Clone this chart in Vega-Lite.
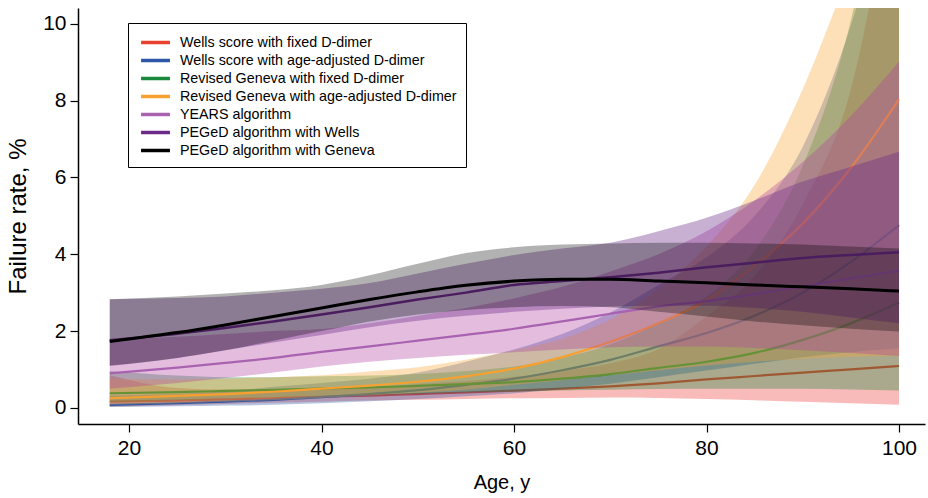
{
  "$schema": "https://vega.github.io/schema/vega-lite/v6.json",
  "width": 847,
  "height": 416,
  "autosize": "none",
  "padding": {"left": 78, "top": 8, "right": 3, "bottom": 74},
  "background": "white",
  "config": {"view": {"stroke": null}, "font": "Liberation Sans"},
  "datasets": {
    "red": [
      {"m":"Wells score with fixed D-dimer","a":18,"e":0.16,"lo":0.03,"hi":0.85},{"m":"Wells score with fixed D-dimer","a":25,"e":0.19,"lo":0.07,"hi":0.52},{"m":"Wells score with fixed D-dimer","a":30,"e":0.22,"lo":0.1,"hi":0.48},{"m":"Wells score with fixed D-dimer","a":35,"e":0.25,"lo":0.13,"hi":0.48},{"m":"Wells score with fixed D-dimer","a":40,"e":0.29,"lo":0.16,"hi":0.53},{"m":"Wells score with fixed D-dimer","a":45,"e":0.32,"lo":0.19,"hi":0.54},{"m":"Wells score with fixed D-dimer","a":50,"e":0.36,"lo":0.21,"hi":0.62},{"m":"Wells score with fixed D-dimer","a":55,"e":0.4,"lo":0.23,"hi":0.7},{"m":"Wells score with fixed D-dimer","a":60,"e":0.45,"lo":0.25,"hi":0.81},{"m":"Wells score with fixed D-dimer","a":65,"e":0.5,"lo":0.26,"hi":0.96},{"m":"Wells score with fixed D-dimer","a":70,"e":0.56,"lo":0.27,"hi":1.16},{"m":"Wells score with fixed D-dimer","a":75,"e":0.64,"lo":0.26,"hi":1.53},{"m":"Wells score with fixed D-dimer","a":80,"e":0.74,"lo":0.23,"hi":2.38},{"m":"Wells score with fixed D-dimer","a":85,"e":0.83,"lo":0.2,"hi":3.44},{"m":"Wells score with fixed D-dimer","a":90,"e":0.92,"lo":0.16,"hi":5.3},{"m":"Wells score with fixed D-dimer","a":95,"e":1.0,"lo":0.12,"hi":8.3},{"m":"Wells score with fixed D-dimer","a":100,"e":1.09,"lo":0.08,"hi":14.8}
    ],
    "blue": [
      {"m":"Wells score with age-adjusted D-dimer","a":18,"e":0.08,"lo":0.02,"hi":0.32},{"m":"Wells score with age-adjusted D-dimer","a":25,"e":0.12,"lo":0.04,"hi":0.36},{"m":"Wells score with age-adjusted D-dimer","a":30,"e":0.16,"lo":0.06,"hi":0.43},{"m":"Wells score with age-adjusted D-dimer","a":35,"e":0.21,"lo":0.08,"hi":0.55},{"m":"Wells score with age-adjusted D-dimer","a":40,"e":0.28,"lo":0.12,"hi":0.65},{"m":"Wells score with age-adjusted D-dimer","a":45,"e":0.36,"lo":0.17,"hi":0.76},{"m":"Wells score with age-adjusted D-dimer","a":50,"e":0.46,"lo":0.23,"hi":0.92},{"m":"Wells score with age-adjusted D-dimer","a":55,"e":0.6,"lo":0.3,"hi":1.2},{"m":"Wells score with age-adjusted D-dimer","a":60,"e":0.76,"lo":0.38,"hi":1.52},{"m":"Wells score with age-adjusted D-dimer","a":65,"e":0.98,"lo":0.5,"hi":1.92},{"m":"Wells score with age-adjusted D-dimer","a":70,"e":1.25,"lo":0.63,"hi":2.48},{"m":"Wells score with age-adjusted D-dimer","a":75,"e":1.6,"lo":0.8,"hi":3.2},{"m":"Wells score with age-adjusted D-dimer","a":80,"e":1.95,"lo":0.97,"hi":3.92},{"m":"Wells score with age-adjusted D-dimer","a":85,"e":2.4,"lo":1.15,"hi":5.0},{"m":"Wells score with age-adjusted D-dimer","a":90,"e":3.0,"lo":1.32,"hi":6.8},{"m":"Wells score with age-adjusted D-dimer","a":95,"e":3.8,"lo":1.45,"hi":9.96},{"m":"Wells score with age-adjusted D-dimer","a":100,"e":4.76,"lo":1.55,"hi":14.6}
    ],
    "green": [
      {"m":"Revised Geneva with fixed D-dimer","a":18,"e":0.38,"lo":0.15,"hi":0.96},{"m":"Revised Geneva with fixed D-dimer","a":25,"e":0.41,"lo":0.2,"hi":0.84},{"m":"Revised Geneva with fixed D-dimer","a":30,"e":0.44,"lo":0.24,"hi":0.8},{"m":"Revised Geneva with fixed D-dimer","a":35,"e":0.47,"lo":0.27,"hi":0.8},{"m":"Revised Geneva with fixed D-dimer","a":40,"e":0.5,"lo":0.3,"hi":0.82},{"m":"Revised Geneva with fixed D-dimer","a":45,"e":0.53,"lo":0.34,"hi":0.84},{"m":"Revised Geneva with fixed D-dimer","a":50,"e":0.57,"lo":0.37,"hi":0.88},{"m":"Revised Geneva with fixed D-dimer","a":55,"e":0.62,"lo":0.4,"hi":0.96},{"m":"Revised Geneva with fixed D-dimer","a":60,"e":0.67,"lo":0.42,"hi":1.08},{"m":"Revised Geneva with fixed D-dimer","a":65,"e":0.76,"lo":0.45,"hi":1.3},{"m":"Revised Geneva with fixed D-dimer","a":70,"e":0.88,"lo":0.47,"hi":1.65},{"m":"Revised Geneva with fixed D-dimer","a":75,"e":1.04,"lo":0.49,"hi":2.2},{"m":"Revised Geneva with fixed D-dimer","a":80,"e":1.2,"lo":0.5,"hi":2.9},{"m":"Revised Geneva with fixed D-dimer","a":85,"e":1.43,"lo":0.5,"hi":4.1},{"m":"Revised Geneva with fixed D-dimer","a":90,"e":1.77,"lo":0.5,"hi":6.3},{"m":"Revised Geneva with fixed D-dimer","a":95,"e":2.2,"lo":0.48,"hi":10.1},{"m":"Revised Geneva with fixed D-dimer","a":100,"e":2.74,"lo":0.45,"hi":16.7}
    ],
    "orange": [
      {"m":"Revised Geneva with age-adjusted D-dimer","a":18,"e":0.25,"lo":0.08,"hi":0.75},{"m":"Revised Geneva with age-adjusted D-dimer","a":25,"e":0.31,"lo":0.12,"hi":0.74},{"m":"Revised Geneva with age-adjusted D-dimer","a":30,"e":0.36,"lo":0.16,"hi":0.76},{"m":"Revised Geneva with age-adjusted D-dimer","a":35,"e":0.42,"lo":0.2,"hi":0.8},{"m":"Revised Geneva with age-adjusted D-dimer","a":40,"e":0.5,"lo":0.26,"hi":0.85},{"m":"Revised Geneva with age-adjusted D-dimer","a":45,"e":0.58,"lo":0.32,"hi":0.95},{"m":"Revised Geneva with age-adjusted D-dimer","a":50,"e":0.68,"lo":0.4,"hi":1.06},{"m":"Revised Geneva with age-adjusted D-dimer","a":55,"e":0.82,"lo":0.48,"hi":1.25},{"m":"Revised Geneva with age-adjusted D-dimer","a":60,"e":1.02,"lo":0.6,"hi":1.5},{"m":"Revised Geneva with age-adjusted D-dimer","a":65,"e":1.32,"lo":0.72,"hi":1.8},{"m":"Revised Geneva with age-adjusted D-dimer","a":70,"e":1.72,"lo":0.85,"hi":2.3},{"m":"Revised Geneva with age-adjusted D-dimer","a":75,"e":2.2,"lo":0.98,"hi":3.1},{"m":"Revised Geneva with age-adjusted D-dimer","a":80,"e":2.8,"lo":1.1,"hi":4.2},{"m":"Revised Geneva with age-adjusted D-dimer","a":85,"e":3.7,"lo":1.2,"hi":5.8},{"m":"Revised Geneva with age-adjusted D-dimer","a":90,"e":4.8,"lo":1.28,"hi":8.3},{"m":"Revised Geneva with age-adjusted D-dimer","a":95,"e":6.25,"lo":1.33,"hi":11.5},{"m":"Revised Geneva with age-adjusted D-dimer","a":100,"e":8.03,"lo":1.35,"hi":15}
    ],
    "years": [
      {"m":"YEARS algorithm","a":18,"e":0.9,"lo":0.5,"hi":1.78},{"m":"YEARS algorithm","a":25,"e":1.05,"lo":0.65,"hi":1.85},{"m":"YEARS algorithm","a":30,"e":1.17,"lo":0.78,"hi":1.92},{"m":"YEARS algorithm","a":35,"e":1.3,"lo":0.92,"hi":2.0},{"m":"YEARS algorithm","a":40,"e":1.46,"lo":1.08,"hi":2.05},{"m":"YEARS algorithm","a":45,"e":1.6,"lo":1.2,"hi":2.2},{"m":"YEARS algorithm","a":50,"e":1.75,"lo":1.3,"hi":2.4},{"m":"YEARS algorithm","a":55,"e":1.9,"lo":1.38,"hi":2.6},{"m":"YEARS algorithm","a":60,"e":2.06,"lo":1.45,"hi":2.85},{"m":"YEARS algorithm","a":65,"e":2.25,"lo":1.52,"hi":3.15},{"m":"YEARS algorithm","a":70,"e":2.45,"lo":1.58,"hi":3.55},{"m":"YEARS algorithm","a":75,"e":2.64,"lo":1.6,"hi":4.0},{"m":"YEARS algorithm","a":80,"e":2.78,"lo":1.6,"hi":4.6},{"m":"YEARS algorithm","a":85,"e":2.96,"lo":1.56,"hi":5.4},{"m":"YEARS algorithm","a":90,"e":3.16,"lo":1.5,"hi":6.4},{"m":"YEARS algorithm","a":95,"e":3.37,"lo":1.43,"hi":7.6},{"m":"YEARS algorithm","a":100,"e":3.57,"lo":1.35,"hi":9.01}
    ],
    "pw": [
      {"m":"PEGeD algorithm with Wells","a":18,"e":1.76,"lo":1.09,"hi":2.83},{"m":"PEGeD algorithm with Wells","a":25,"e":1.93,"lo":1.3,"hi":2.86},{"m":"PEGeD algorithm with Wells","a":30,"e":2.08,"lo":1.5,"hi":2.9},{"m":"PEGeD algorithm with Wells","a":35,"e":2.25,"lo":1.7,"hi":3.0},{"m":"PEGeD algorithm with Wells","a":40,"e":2.43,"lo":1.9,"hi":3.1},{"m":"PEGeD algorithm with Wells","a":45,"e":2.62,"lo":2.1,"hi":3.25},{"m":"PEGeD algorithm with Wells","a":50,"e":2.82,"lo":2.27,"hi":3.5},{"m":"PEGeD algorithm with Wells","a":55,"e":3.0,"lo":2.4,"hi":3.75},{"m":"PEGeD algorithm with Wells","a":60,"e":3.2,"lo":2.5,"hi":3.98},{"m":"PEGeD algorithm with Wells","a":65,"e":3.3,"lo":2.58,"hi":4.15},{"m":"PEGeD algorithm with Wells","a":70,"e":3.4,"lo":2.64,"hi":4.3},{"m":"PEGeD algorithm with Wells","a":75,"e":3.52,"lo":2.66,"hi":4.6},{"m":"PEGeD algorithm with Wells","a":80,"e":3.66,"lo":2.66,"hi":4.95},{"m":"PEGeD algorithm with Wells","a":85,"e":3.78,"lo":2.6,"hi":5.4},{"m":"PEGeD algorithm with Wells","a":90,"e":3.9,"lo":2.5,"hi":5.89},{"m":"PEGeD algorithm with Wells","a":95,"e":3.98,"lo":2.35,"hi":6.28},{"m":"PEGeD algorithm with Wells","a":100,"e":4.05,"lo":2.2,"hi":6.67}
    ],
    "pg": [
      {"m":"PEGeD algorithm with Geneva","a":18,"e":1.73,"lo":1.1,"hi":2.83},{"m":"PEGeD algorithm with Geneva","a":25,"e":1.96,"lo":1.3,"hi":2.9},{"m":"PEGeD algorithm with Geneva","a":30,"e":2.16,"lo":1.5,"hi":2.98},{"m":"PEGeD algorithm with Geneva","a":35,"e":2.38,"lo":1.75,"hi":3.06},{"m":"PEGeD algorithm with Geneva","a":40,"e":2.6,"lo":2.0,"hi":3.2},{"m":"PEGeD algorithm with Geneva","a":45,"e":2.82,"lo":2.25,"hi":3.45},{"m":"PEGeD algorithm with Geneva","a":50,"e":3.02,"lo":2.43,"hi":3.75},{"m":"PEGeD algorithm with Geneva","a":55,"e":3.19,"lo":2.55,"hi":4.03},{"m":"PEGeD algorithm with Geneva","a":60,"e":3.3,"lo":2.62,"hi":4.18},{"m":"PEGeD algorithm with Geneva","a":65,"e":3.35,"lo":2.65,"hi":4.25},{"m":"PEGeD algorithm with Geneva","a":70,"e":3.35,"lo":2.62,"hi":4.28},{"m":"PEGeD algorithm with Geneva","a":75,"e":3.3,"lo":2.5,"hi":4.3},{"m":"PEGeD algorithm with Geneva","a":80,"e":3.26,"lo":2.38,"hi":4.3},{"m":"PEGeD algorithm with Geneva","a":85,"e":3.2,"lo":2.25,"hi":4.28},{"m":"PEGeD algorithm with Geneva","a":90,"e":3.15,"lo":2.15,"hi":4.25},{"m":"PEGeD algorithm with Geneva","a":95,"e":3.1,"lo":2.06,"hi":4.2},{"m":"PEGeD algorithm with Geneva","a":100,"e":3.04,"lo":1.99,"hi":4.15}
    ]
  },
  "encoding": {
    "x": {
      "field": "a", "type": "quantitative",
      "scale": {"domain": [14.7, 102.7], "nice": false, "zero": false},
      "axis": {"values": [20, 40, 60, 80, 100], "title": "Age, y", "grid": false, "domainColor": "black", "domainWidth": 1.5, "tickColor": "black", "tickWidth": 1.2, "tickSize": 8, "labelFontSize": 21, "titleFontSize": 20, "labelFont": "Liberation Sans", "titleFont": "Liberation Sans", "titleFontWeight": "normal", "labelColor": "black", "titleColor": "black", "labelPadding": 5, "titlePadding": 14}
    },
    "y": {"field": "e", "type": "quantitative", "scale": {"domain": [-0.42, 10.41], "nice": false, "zero": false},
      "axis": {"values": [0, 2, 4, 6, 8, 10], "title": "Failure rate, %", "grid": false, "domainColor": "black", "domainWidth": 1.5, "tickColor": "black", "tickWidth": 1.2, "tickSize": 8, "labelFontSize": 21, "titleFontSize": 24, "labelFont": "Liberation Sans", "titleFont": "Liberation Sans", "titleFontWeight": "normal", "labelColor": "black", "titleColor": "black", "labelPadding": 4, "titlePadding": 12}},
    "color": {"field": "m", "type": "nominal",
      "scale": {"domain": ["Wells score with fixed D-dimer", "Wells score with age-adjusted D-dimer", "Revised Geneva with fixed D-dimer", "Revised Geneva with age-adjusted D-dimer", "YEARS algorithm", "PEGeD algorithm with Wells", "PEGeD algorithm with Geneva"], "range": ["#e8412f", "#2c56a6", "#18883a", "#f7a030", "#a862b0", "#6b2a87", "#000000"]},
      "legend": {"orient": "none", "legendX": 50, "legendY": 15, "title": null, "symbolType": "M-1.7,0H1.7", "symbolSize": 289, "symbolStrokeWidth": 3.5, "symbolOffset": 8, "labelOffset": 14, "labelFontSize": 14.3, "labelFont": "Liberation Sans", "labelColor": "black", "padding": 9, "strokeColor": "black", "rowPadding": 0, "labelLimit": 400}}
  },
  "layer": [
    {"data": {"name": "red"}, "mark": {"type": "area", "clip": true, "interpolate": "monotone", "fillOpacity": 0.35},
     "encoding": {"y": {"field": "lo", "type": "quantitative"}, "y2": {"field": "hi"}, "color": {"value": "#ee3a3a"}}},
    {"data": {"name": "red"}, "mark": {"type": "line", "clip": true, "interpolate": "monotone", "strokeWidth": 2.2}},
    {"data": {"name": "blue"}, "mark": {"type": "area", "clip": true, "interpolate": "monotone", "fillOpacity": 0.35},
     "encoding": {"y": {"field": "lo", "type": "quantitative"}, "y2": {"field": "hi"}, "color": {"value": "#2c56a6"}}},
    {"data": {"name": "blue"}, "mark": {"type": "line", "clip": true, "interpolate": "monotone", "strokeWidth": 2.2}},
    {"data": {"name": "green"}, "mark": {"type": "area", "clip": true, "interpolate": "monotone", "fillOpacity": 0.35},
     "encoding": {"y": {"field": "lo", "type": "quantitative"}, "y2": {"field": "hi"}, "color": {"value": "#18883a"}}},
    {"data": {"name": "green"}, "mark": {"type": "line", "clip": true, "interpolate": "monotone", "strokeWidth": 2.2}},
    {"data": {"name": "orange"}, "mark": {"type": "area", "clip": true, "interpolate": "monotone", "fillOpacity": 0.35},
     "encoding": {"y": {"field": "lo", "type": "quantitative"}, "y2": {"field": "hi"}, "color": {"value": "#f9a634"}}},
    {"data": {"name": "orange"}, "mark": {"type": "line", "clip": true, "interpolate": "monotone", "strokeWidth": 2.2}},
    {"data": {"name": "years"}, "mark": {"type": "area", "clip": true, "interpolate": "monotone", "fillOpacity": 0.35},
     "encoding": {"y": {"field": "lo", "type": "quantitative"}, "y2": {"field": "hi"}, "color": {"value": "#b040a0"}}},
    {"data": {"name": "years"}, "mark": {"type": "line", "clip": true, "interpolate": "monotone", "strokeWidth": 2.2}},
    {"data": {"name": "pw"}, "mark": {"type": "area", "clip": true, "interpolate": "monotone", "fillOpacity": 0.37},
     "encoding": {"y": {"field": "lo", "type": "quantitative"}, "y2": {"field": "hi"}, "color": {"value": "#6b2a87"}}},
    {"data": {"name": "pw"}, "mark": {"type": "line", "clip": true, "interpolate": "monotone", "strokeWidth": 2.5}},
    {"data": {"name": "pg"}, "mark": {"type": "area", "clip": true, "interpolate": "monotone", "fillOpacity": 0.3},
     "encoding": {"y": {"field": "lo", "type": "quantitative"}, "y2": {"field": "hi"}, "color": {"value": "#000000"}}},
    {"data": {"name": "pg"}, "mark": {"type": "line", "clip": true, "interpolate": "monotone", "strokeWidth": 3}}
  ]
}
